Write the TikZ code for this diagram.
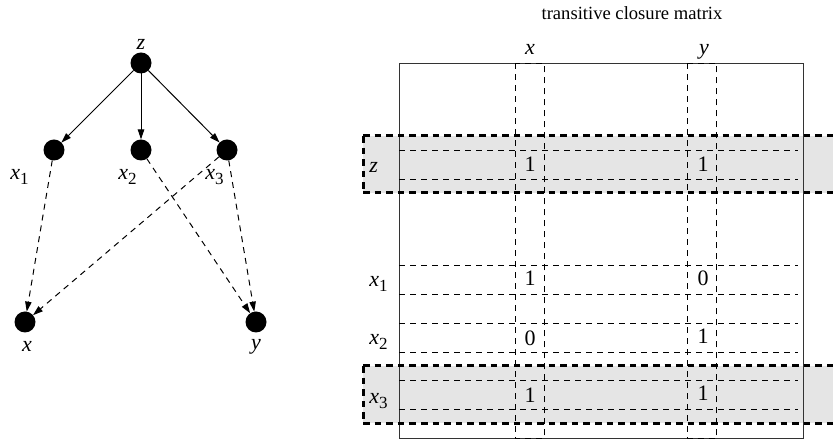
\documentclass[tikz,border=0pt]{standalone}
\usepackage{fontspec}
\setmainfont{Liberation Serif}
\usetikzlibrary{arrows.meta}
% italic variable with an upright, lowered index
\newcommand{\ivar}[2]{\textit{#1}\raisebox{-0.45ex}{\fontsize{8.5}{9}\selectfont #2}}
\begin{document}
\begin{tikzpicture}[x=0.5pt,y=-0.5pt,
  vertex/.style={circle,fill=black,inner sep=0pt,outer sep=0pt,minimum size=10.5pt},
  lbl/.style={inner sep=0pt,anchor=base,font=\fontsize{11}{13}\selectfont},
  lblw/.style={lbl,anchor=base west},
  tip/.style={-{Triangle[length=5pt,width=3.2pt]}},
  edge/.style={tip,line width=0.5pt},
  dedge/.style={tip,line width=0.5pt,dash pattern=on 3pt off 2.5pt},
  thin dash/.style={line width=0.5pt,dash pattern=on 3pt off 2.5pt},
  band/.style={line width=1.5pt,dash pattern=on 3.3pt off 2.5pt},
  bandfill/.style={fill=black!10,draw=none}]
\useasboundingbox (0,0) rectangle (835,442);

% --- graph ---
\node[vertex] (z)  at (141,63)  {};
\node[vertex] (x1) at (54,150)  {};
\node[vertex] (x2) at (141,150) {};
\node[vertex] (x3) at (227,150) {};
\node[vertex] (x)  at (25,322)  {};
\node[vertex] (y)  at (256,322) {};

\node[lbl]  (lz)  at (141,50)  {\textit{z}};
\node[lblw] (lx1) at (10,180)  {\ivar{x}{1}};
\node[lblw] (lx2) at (118,180) {\ivar{x}{2}};
\node[lblw] (lx3) at (205,180) {\ivar{x}{3}};
\node[lbl]  (lx)  at (27,352)  {\textit{x}};
\node[lbl]  (ly)  at (256,350) {\textit{y}};

\draw[edge] (z) -- (x1);
\draw[edge] (z) -- (x2);
\draw[edge] (z) -- (x3);
\draw[dedge] (x1) -- (x);
\draw[dedge] (x3) -- (x);
\draw[dedge] (x2) -- (y);
\draw[dedge] (x3) -- (y);

% --- transitive closure matrix ---
\node[inner sep=0pt,font=\fontsize{9.3}{11}\selectfont] (title) at (632,13) {transitive closure matrix};

% highlighted rows
\fill[bandfill] (363,136) rectangle (833,192.7);
\fill[bandfill] (363,366) rectangle (833,423.3);

% frame
\draw[line width=0.6pt,black!80] (399.3,63.3) rectangle (803.3,438.3);

% columns x and y
\draw[thin dash] (515,63.3) rectangle (544,438.3);
\draw[thin dash] (687.7,63.3) rectangle (716.7,438.3);
\node[lbl] (cx) at (530,55) {\textit{x}};
\node[lbl] (cy) at (704,55) {\textit{y}};

% rows z, x1, x2, x3
\foreach \a/\b in {150.7/179.3, 265.7/294.3, 323.3/352.3, 381/409.3}{
  \draw[thin dash] (399.3,\a) -- (798,\a);
  \draw[thin dash] (399.3,\b) -- (798,\b);
}
\node[lblw] (rz)  at (369,173) {\textit{z}};
\node[lblw] (rx1) at (369,286.5) {\ivar{x}{1}};
\node[lblw] (rx2) at (369,345) {\ivar{x}{2}};
\node[lblw] (rx3) at (369,404) {\ivar{x}{3}};

% entries
\node[lbl] (e11) at (530,172) {1};
\node[lbl] (e12) at (703,172) {1};
\node[lbl] (e21) at (530,285.5) {1};
\node[lbl] (e22) at (703,285.5) {0};
\node[lbl] (e31) at (530,346) {0};
\node[lbl] (e32) at (703,344) {1};
\node[lbl] (e41) at (530,403) {1};
\node[lbl] (e42) at (703,401) {1};

% thick dashed outlines of the highlighted rows, open to the right
\draw[band] (363,136) -- (833,136);
\draw[band] (363,192.7) -- (833,192.7);
\draw[band] (363,136) -- (363,192.7);
\draw[band] (363,366) -- (833,366);
\draw[band] (363,423.3) -- (833,423.3);
\draw[band] (363,366) -- (363,423.3);
\end{tikzpicture}
\end{document}
